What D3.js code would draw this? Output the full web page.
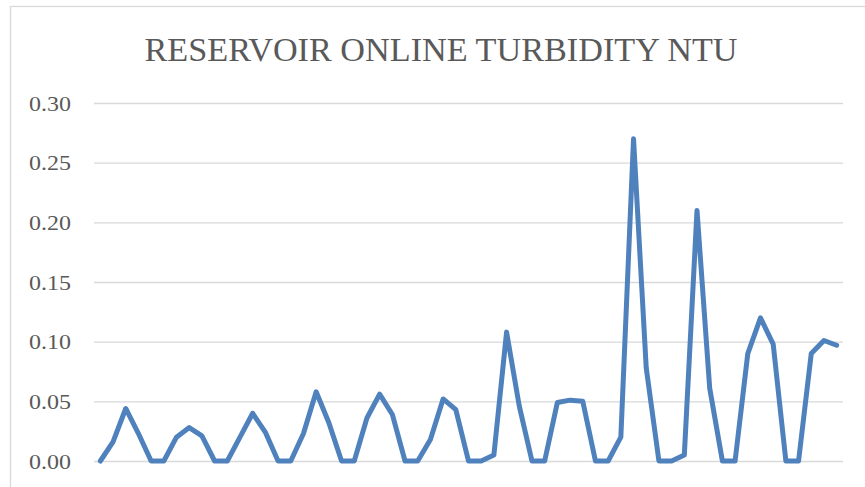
<!DOCTYPE html>
<html>
<head>
<meta charset="utf-8">
<script src="https://cdn.jsdelivr.net/npm/d3@7"></script>
<style>
  html, body { margin: 0; padding: 0; background: #fff; }
  svg { display: block; }
</style>
</head>
<body>
<div id="chart"></div>
<script>
// readings, one per sample
var turbidity = [
  0.000, 0.016, 0.044, 0.023, 0.000, 0.000, 0.020, 0.028, 0.021, 0.000,
  0.000, 0.020, 0.040, 0.024, 0.000, 0.000, 0.023, 0.058, 0.032, 0.000,
  0.000, 0.036, 0.056, 0.039, 0.000, 0.000, 0.018, 0.052, 0.043, 0.000,
  0.000, 0.005, 0.108, 0.046, 0.000, 0.000, 0.049, 0.051, 0.050, 0.000,
  0.000, 0.020, 0.270, 0.078, 0.000, 0.000, 0.005, 0.210, 0.061, 0.000,
  0.000, 0.090, 0.120, 0.098, 0.000, 0.000, 0.090, 0.101, 0.097
];
var samples = d3.range(1, turbidity.length + 1);
var yTicks = [0, 0.05, 0.10, 0.15, 0.20, 0.25, 0.30];
var chartTitle = "RESERVOIR ONLINE TURBIDITY NTU";

var W = 865, H = 487;
var plot = { left: 94, right: 843, top: 103, bottom: 461 };

var svg = d3.select("#chart").append("svg")
    .attr("width", W)
    .attr("height", H);

// chart area border (only top and left show in the frame)
svg.append("rect")
    .attr("x", 10.5).attr("y", 6.5)
    .attr("width", W + 20).attr("height", H + 20)
    .attr("fill", "none")
    .attr("stroke", "#d9d9d9")
    .attr("stroke-width", 1.3);

var x = d3.scaleBand()
    .domain(samples)
    .range([plot.left, plot.right]);

var y = d3.scaleLinear()
    .domain([0, 0.30])
    .range([plot.bottom, plot.top]);

var yAxis = d3.axisLeft(y)
    .tickValues(yTicks)
    .tickFormat(d3.format(".2f"))
    .tickSize(-(plot.right - plot.left))
    .tickPadding(23);

var gy = svg.append("g")
    .attr("transform", "translate(" + plot.left + ",0)")
    .call(yAxis);
gy.select(".domain").remove();
gy.selectAll(".tick line")
    .attr("stroke", "#d9d9d9")
    .attr("stroke-width", 1.4);
gy.selectAll(".tick text")
    .attr("fill", "#595959")
    .attr("textLength", 42)
    .attr("lengthAdjust", "spacingAndGlyphs")
    .style("font-family", "'Liberation Serif', 'DejaVu Serif', serif")
    .style("font-size", "22px");

svg.append("text")
    .attr("x", 441)
    .attr("y", 61)
    .attr("text-anchor", "middle")
    .attr("textLength", 593)
    .attr("lengthAdjust", "spacingAndGlyphs")
    .attr("fill", "#595959")
    .style("font-family", "'Liberation Serif', 'DejaVu Serif', serif")
    .style("font-size", "34px")
    .text(chartTitle);

var line = d3.line()
    .x(function(d, i) { return x(samples[i]) + x.bandwidth() / 2; })
    .y(function(d) { return y(d); });

svg.append("path")
    .datum(turbidity)
    .attr("d", line)
    .attr("fill", "none")
    .attr("stroke", "#4f81bd")
    .attr("stroke-width", 5)
    .attr("stroke-linejoin", "round")
    .attr("stroke-linecap", "round");
</script>
</body>
</html>
